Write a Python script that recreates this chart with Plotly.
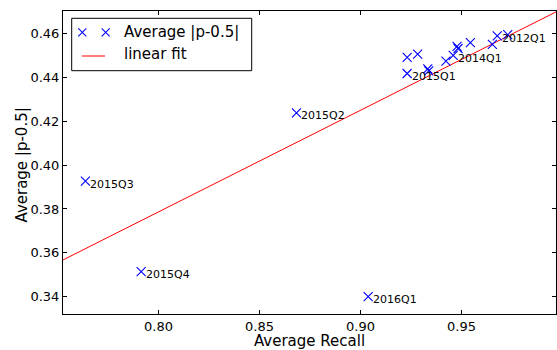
import numpy as np
import plotly.graph_objects as go

# ---- data ----
avg_recall = [0.9231, 0.9283, 0.9231, 0.9333, 0.9338, 0.9423, 0.9459, 0.9478,
              0.9483, 0.9544, 0.9653, 0.9677, 0.9729, 0.8683, 0.7638, 0.7914, 0.9038]
avg_p = [0.4491, 0.4506, 0.4418, 0.4439, 0.4430, 0.4474, 0.4501, 0.4542,
         0.4532, 0.4559, 0.4551, 0.4590, 0.4595, 0.4238, 0.3927, 0.3514, 0.3400]
point_labels = ["", "", "2015Q1", "", "", "", "2014Q1", "",
                "", "", "", "2012Q1", "", "2015Q2", "2015Q3", "2015Q4", "2016Q1"]
x_ticks = [0.80, 0.85, 0.90, 0.95]
y_ticks = [0.34, 0.36, 0.38, 0.40, 0.42, 0.44, 0.46]
x_range = [0.7527, 0.9968]
y_range = [0.3321, 0.4703]

FONT = "DejaVu Sans"
W, H = 557, 350
L, R, T, B = 63, 1, 11, 36

slope, intercept = np.polyfit(avg_recall, avg_p, 1)
fit_x = np.array(x_range)
fit_y = slope * fit_x + intercept

fig = go.Figure()
fig.add_trace(go.Scatter(x=fit_x, y=fit_y, mode="lines",
                         line=dict(color="#ff0000", width=1), showlegend=False,
                         cliponaxis=True))
fig.add_trace(go.Scatter(x=avg_recall, y=avg_p, mode="markers",
                         marker=dict(symbol="x-thin", size=9, color="#0000ff",
                                     line=dict(color="#0000ff", width=1.1)),
                         showlegend=False, cliponaxis=False))

annotations = []
for xv, yv, lab in zip(avg_recall, avg_p, point_labels):
    if lab:
        annotations.append(dict(x=xv, y=yv, text=lab, showarrow=False,
                                xanchor="left", yanchor="middle", xshift=3, yshift=-3,
                                font=dict(family=FONT, size=11, color="black")))

# ---- custom legend (matplotlib-style, two markers) ----
pw, ph = W - L - R, H - T - B
def px(x): return (x - L) / pw
def py(y): return (H - B - y) / ph

shapes = [dict(type="rect", xref="paper", yref="paper",
               x0=px(71.7), x1=px(251.7), y0=py(70.7), y1=py(18.3),
               line=dict(color="black", width=1), fillcolor="white", layer="above")]
for cx in (82.3, 105.7):
    cy, r = 32.3, 4.0
    shapes.append(dict(type="line", xref="paper", yref="paper",
                       x0=px(cx - r), x1=px(cx + r), y0=py(cy - r), y1=py(cy + r),
                       line=dict(color="#0000ff", width=1.1), layer="above"))
    shapes.append(dict(type="line", xref="paper", yref="paper",
                       x0=px(cx - r), x1=px(cx + r), y0=py(cy + r), y1=py(cy - r),
                       line=dict(color="#0000ff", width=1.1), layer="above"))
shapes.append(dict(type="line", xref="paper", yref="paper",
                   x0=px(81.7), x1=px(105), y0=py(56), y1=py(56),
                   line=dict(color="#ff0000", width=1), layer="above"))
annotations.append(dict(x=px(122), y=py(32.3), xref="paper", yref="paper",
                        text="Average |p-0.5|", showarrow=False,
                        xanchor="left", yanchor="middle",
                        font=dict(family=FONT, size=15, color="black")))
annotations.append(dict(x=px(122), y=py(54.3), xref="paper", yref="paper",
                        text="linear fit", showarrow=False,
                        xanchor="left", yanchor="middle",
                        font=dict(family=FONT, size=15, color="black")))
# y-axis title placed as rotated text
annotations.append(dict(x=px(21.5), y=py(165), xref="paper", yref="paper",
                        text="Average |p-0.5|", showarrow=False, textangle=-90,
                        xanchor="center", yanchor="middle",
                        font=dict(family=FONT, size=15, color="black")))

axis_common = dict(showgrid=False, zeroline=False, showline=True, linecolor="black",
                   linewidth=1, mirror="ticks", ticks="inside", ticklen=4,
                   tickcolor="black", tickwidth=1,
                   tickfont=dict(family=FONT, size=13, color="black"))

fig.update_layout(
    width=W, height=H,
    margin=dict(l=L, r=R, t=T, b=B),
    paper_bgcolor="white", plot_bgcolor="white",
    xaxis=dict(range=x_range, tickvals=x_ticks, tickformat=".2f",
               title=dict(text="Average Recall", font=dict(family=FONT, size=15, color="black"),
                          standoff=2),
               **axis_common),
    yaxis=dict(range=y_range, tickvals=y_ticks, tickformat=".2f", **axis_common),
    annotations=annotations,
    shapes=shapes,
    showlegend=False,
)

fig.write_html("out.html")
